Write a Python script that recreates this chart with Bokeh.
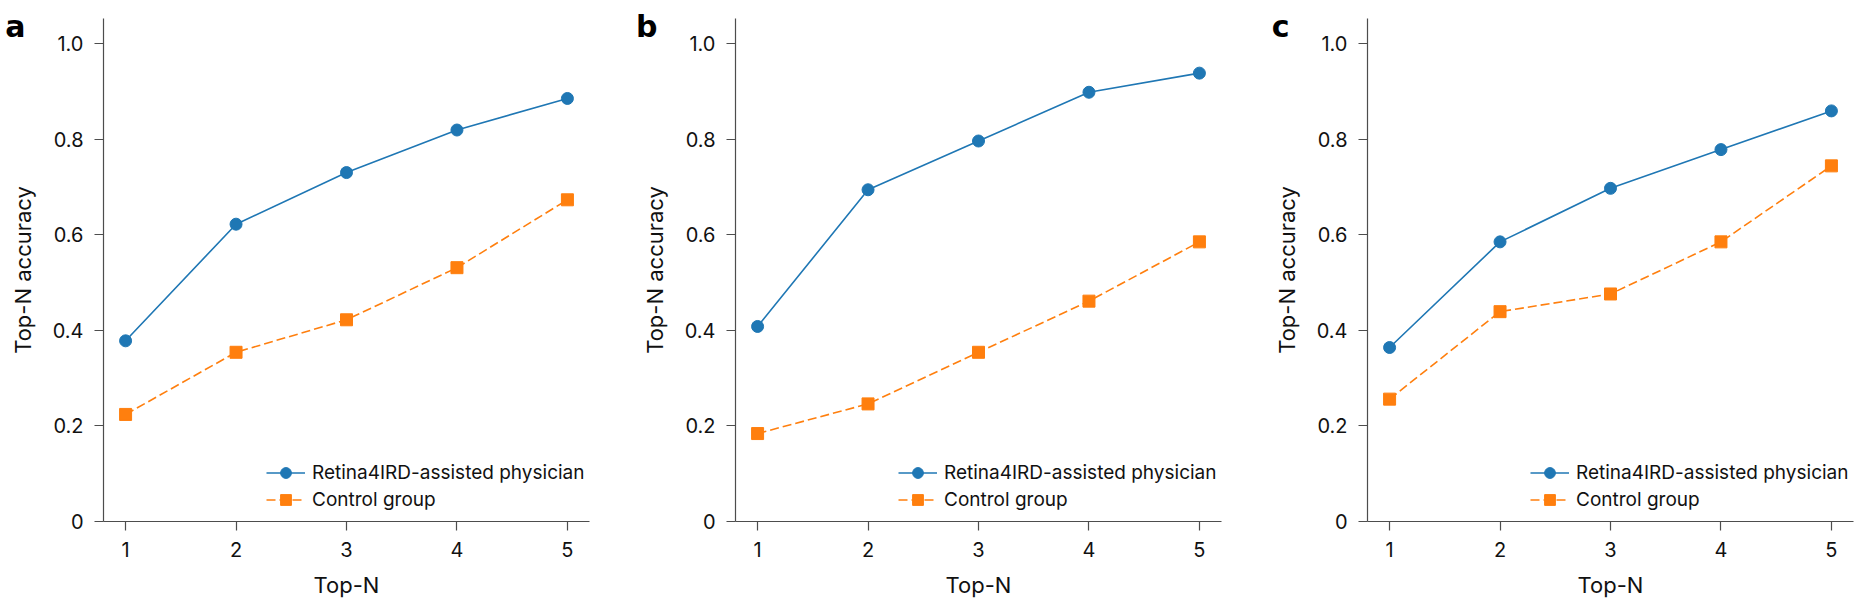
from bokeh.plotting import figure
from bokeh.layouts import row
from bokeh.models import FixedTicker, Legend, LegendItem, LinearAxis, Range1d
from bokeh.embed import file_html
from bokeh.resources import INLINE

top_n = [1, 2, 3, 4, 5]
panel_labels = ["a", "b", "c"]
assisted = [
    [0.378, 0.622, 0.730, 0.819, 0.885],
    [0.408, 0.694, 0.796, 0.898, 0.938],
    [0.364, 0.585, 0.697, 0.778, 0.859],
]
control = [
    [0.224, 0.354, 0.422, 0.531, 0.673],
    [0.184, 0.246, 0.354, 0.461, 0.585],
    [0.256, 0.439, 0.476, 0.585, 0.744],
]
series_names = ["Retina4IRD-assisted physician", "Control group"]
y_ticks = [0, 0.2, 0.4, 0.6, 0.8, 1.0]
y_tick_labels = ["0", "0.2", "0.4", "0.6", "0.8", "1.0"]
x_tick_labels = ["1", "2", "3", "4", "5"]
panel_label_y = 1.0356

BLUE = "#1f77b4"
ORANGE = "#ff7f0e"
FONT = "Inter"
AXIS_COLOR = "#4d4d4d"

figs = []
for i in range(3):
    right_border = 43 if i < 2 else 12
    p = figure(
        frame_width=486, frame_height=503,
        min_border_left=103, min_border_right=right_border,
        min_border_top=18, min_border_bottom=70,
        x_range=Range1d(0.8, 5.2), y_range=Range1d(0, 1.0523),
        output_backend="svg", toolbar_location=None,
    )
    p.outline_line_color = None
    p.grid.visible = False
    p.background_fill_color = "white"
    p.border_fill_color = "white"

    l1 = p.line(top_n, assisted[i], line_color=BLUE, line_width=1.6)
    s1 = p.scatter(top_n, assisted[i], marker="circle", size=12,
                   fill_color=BLUE, line_color=BLUE)
    l2 = p.line(top_n, control[i], line_color=ORANGE, line_width=1.6,
                line_dash="9 4")
    s2 = p.scatter(top_n, control[i], marker="square", size=12,
                   fill_color=ORANGE, line_color=ORANGE)

    legend = Legend(
        items=[LegendItem(label=series_names[0], renderers=[l1, s1]),
               LegendItem(label=series_names[1], renderers=[l2, s2])],
        location=(163, 8),
        border_line_color=None, background_fill_alpha=0,
        glyph_width=39, glyph_height=27, label_height=27,
        label_standoff=7, spacing=0, padding=0, margin=0,
        label_text_font=FONT, label_text_font_size="19px",
        label_text_color="#111111",
    )
    p.add_layout(legend, "center")

    for ax in (p.xaxis[0], p.yaxis[0]):
        ax.axis_line_color = AXIS_COLOR
        ax.axis_line_width = 1.2
        ax.major_tick_line_color = AXIS_COLOR
        ax.major_tick_line_width = 1.2
        ax.major_tick_in = 0
        ax.major_tick_out = 9
        ax.minor_tick_line_color = None
        ax.major_label_text_font = FONT
        ax.major_label_text_font_size = "20px"
        ax.major_label_text_color = "#111111"
        ax.axis_label_text_font = FONT
        ax.axis_label_text_font_size = "22px"
        ax.axis_label_text_font_style = "normal"
        ax.axis_label_text_color = "#111111"

    p.xaxis.ticker = FixedTicker(ticks=top_n)
    p.xaxis.major_label_overrides = {t: s for t, s in zip(top_n, x_tick_labels)}
    p.xaxis.major_label_standoff = 11
    p.xaxis.axis_label = "Top-N"
    p.xaxis.axis_label_standoff = 12

    p.yaxis.ticker = FixedTicker(ticks=y_ticks)
    p.yaxis.major_label_overrides = {t: s for t, s in zip(y_ticks, y_tick_labels)}
    p.yaxis.major_label_standoff = 11
    p.yaxis.axis_label = "Top-N accuracy"
    p.yaxis.axis_label_standoff = 14

    # panel letter, drawn as the single label of an outer, invisible left axis
    letter_axis = LinearAxis(
        ticker=FixedTicker(ticks=[panel_label_y]),
        major_label_overrides={panel_label_y: panel_labels[i]},
        axis_line_color=None, major_tick_line_color=None,
        minor_tick_line_color=None, major_tick_in=0, major_tick_out=0,
        major_label_standoff=-19,
        major_label_text_font="DejaVu Sans",
        major_label_text_font_style="bold",
        major_label_text_font_size="30px",
        major_label_text_color="black",
    )
    p.add_layout(letter_axis, "left")
    figs.append(p)

layout = row(*figs)
open("out.html", "w").write(file_html(layout, INLINE))
